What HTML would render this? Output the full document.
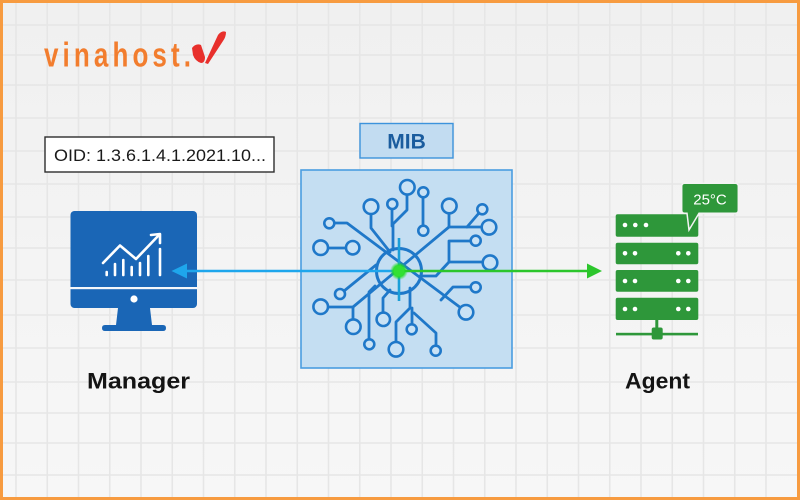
<!DOCTYPE html>
<html><head><meta charset="utf-8"><style>
html,body{margin:0;padding:0;width:800px;height:500px;overflow:hidden;background:#f3f3f3}
svg{display:block}
</style></head><body>
<svg width="800" height="500" viewBox="0 0 800 500" xmlns="http://www.w3.org/2000/svg">
<defs>
<linearGradient id="bg" x1="0" y1="0" x2="0" y2="1">
<stop offset="0" stop-color="#f0f0f0"/><stop offset="1" stop-color="#f7f7f7"/>
</linearGradient>
<radialGradient id="gd"><stop offset="0" stop-color="#7dff5a"/><stop offset="0.6" stop-color="#22dd22"/><stop offset="1" stop-color="#22dd22" stop-opacity="0"/></radialGradient>
</defs>
<rect x="0" y="0" width="800" height="500" fill="url(#bg)"/>
<g stroke="#e6e6e6" stroke-width="1.6">
<line x1="16" y1="0" x2="16" y2="500"/><line x1="47.25" y1="0" x2="47.25" y2="500"/><line x1="78.5" y1="0" x2="78.5" y2="500"/><line x1="109.75" y1="0" x2="109.75" y2="500"/><line x1="141" y1="0" x2="141" y2="500"/><line x1="172.25" y1="0" x2="172.25" y2="500"/><line x1="203.5" y1="0" x2="203.5" y2="500"/><line x1="234.75" y1="0" x2="234.75" y2="500"/><line x1="266" y1="0" x2="266" y2="500"/><line x1="297.25" y1="0" x2="297.25" y2="500"/><line x1="328.5" y1="0" x2="328.5" y2="500"/><line x1="359.75" y1="0" x2="359.75" y2="500"/><line x1="391" y1="0" x2="391" y2="500"/><line x1="422.25" y1="0" x2="422.25" y2="500"/><line x1="453.5" y1="0" x2="453.5" y2="500"/><line x1="484.75" y1="0" x2="484.75" y2="500"/><line x1="516" y1="0" x2="516" y2="500"/><line x1="547.25" y1="0" x2="547.25" y2="500"/><line x1="578.5" y1="0" x2="578.5" y2="500"/><line x1="609.75" y1="0" x2="609.75" y2="500"/><line x1="641" y1="0" x2="641" y2="500"/><line x1="672.25" y1="0" x2="672.25" y2="500"/><line x1="703.5" y1="0" x2="703.5" y2="500"/><line x1="734.75" y1="0" x2="734.75" y2="500"/><line x1="766" y1="0" x2="766" y2="500"/>
<line x1="0" y1="25" x2="800" y2="25"/><line x1="0" y1="55" x2="800" y2="55"/><line x1="0" y1="85" x2="800" y2="85"/><line x1="0" y1="118" x2="800" y2="118"/><line x1="0" y1="151" x2="800" y2="151"/><line x1="0" y1="184" x2="800" y2="184"/><line x1="0" y1="217" x2="800" y2="217"/><line x1="0" y1="248" x2="800" y2="248"/><line x1="0" y1="280" x2="800" y2="280"/><line x1="0" y1="315" x2="800" y2="315"/><line x1="0" y1="348" x2="800" y2="348"/><line x1="0" y1="382" x2="800" y2="382"/><line x1="0" y1="413" x2="800" y2="413"/><line x1="0" y1="443" x2="800" y2="443"/><line x1="0" y1="475" x2="800" y2="475"/>
</g>

<!-- logo -->
<g transform="translate(44,66.5) scale(1,1.32)">
<text x="0" y="0" font-family="Liberation Sans, sans-serif" font-weight="bold" font-size="26" fill="#f27d2e" textLength="147" lengthAdjust="spacing">vinahost.</text>
</g>
<path d="M192,48 Q196,43 201,45 L205,57 Q205,63 201,63 Q195,61 193,55 Z" fill="#e8302c"/>
<path d="M205,63 L218,35 Q222,30 226,32 Q226,37 223,41 L208,64 Z" fill="#e8302c"/>

<!-- OID box -->
<rect x="45" y="137" width="229" height="35" fill="#fff" stroke="#2e2e2e" stroke-width="1.4"/>
<text x="54" y="161" font-family="Liberation Sans, sans-serif" font-size="17" fill="#1a1a1a" textLength="212" lengthAdjust="spacingAndGlyphs">OID: 1.3.6.1.4.1.2021.10...</text>

<!-- Manager monitor -->
<g fill="#1a66b6">
<rect x="70.5" y="211" width="126.5" height="97" rx="4"/>
<path d="M118,308 H150 L152,325 H163 Q166,325 166,328 Q166,331 163,331 H105 Q102,331 102,328 Q102,325 105,325 H116 Z"/>
</g>
<rect x="70.5" y="287" width="126.5" height="2.2" fill="#f4f7fb"/>
<circle cx="134" cy="299" r="3.6" fill="#fff"/>
<g stroke="#fff" stroke-width="2.6" fill="none" stroke-linecap="round" stroke-linejoin="round">
<line x1="106.7" y1="275" x2="106.7" y2="272"/>
<line x1="115" y1="275" x2="115" y2="264"/>
<line x1="123.3" y1="275" x2="123.3" y2="260"/>
<line x1="131.7" y1="275" x2="131.7" y2="267"/>
<line x1="140" y1="275" x2="140" y2="263"/>
<line x1="148.3" y1="275" x2="148.3" y2="256"/>
<line x1="160" y1="275" x2="160" y2="249"/>
<polyline points="103,263 120,245.5 136,259 159,235"/>
<polyline points="151,235 160,234 160,243"/>
</g>
<text x="87" y="388.5" font-family="Liberation Sans, sans-serif" font-weight="bold" font-size="22.5" fill="#141414" textLength="103" lengthAdjust="spacingAndGlyphs">Manager</text>

<!-- MIB label -->
<rect x="360" y="123.5" width="93" height="34.5" fill="#c2dcf1" stroke="#3d93dc" stroke-width="1.4"/>
<text x="406.5" y="148.5" text-anchor="middle" font-family="Liberation Sans, sans-serif" font-weight="bold" font-size="21" fill="#1a5c9e">MIB</text>

<!-- MIB box -->
<rect x="301" y="170" width="211" height="198" fill="#c4def2" stroke="#4a9de0" stroke-width="1.6"/>

<g stroke="#1f78c9" stroke-width="2.8" fill="none" stroke-linecap="round" stroke-linejoin="round">
<path d="M407,195 V210 L393,224 V250"/>
<path d="M392,209 V226"/>
<path d="M371,214 V228 L390,252"/>
<path d="M423,197 V226"/>
<path d="M353,307 L449,227"/>
<path d="M449,213 V227 H482"/>
<path d="M479,213 L467,227"/>
<path d="M334,223 H347 L461,308"/>
<path d="M328,248 H346"/>
<path d="M471,241 H449 V262 H483"/>
<path d="M449,262 L436,276 H420"/>
<path d="M471,287 H453 L441,300"/>
<path d="M344,291 L376,265"/>
<path d="M328,307 H353 V320"/>
<path d="M369,339 V292 L375,286"/>
<path d="M383,313 V298 L390,290"/>
<path d="M396,342 V322 L410,308 V288"/>
<path d="M412,324 V308"/>
<path d="M436,346 V333 L414,313"/>
<circle cx="399" cy="271" r="22.5" stroke-width="3"/>
</g>
<g stroke="#1f78c9" stroke-width="2.6" fill="#c9e2f5">
<circle cx="407.3" cy="187.3" r="7.3"/>
<circle cx="423.3" cy="192.3" r="5"/>
<circle cx="371" cy="206.7" r="7.3"/>
<circle cx="392.3" cy="204" r="5"/>
<circle cx="449.3" cy="206" r="7.3"/>
<circle cx="482.3" cy="209.3" r="5"/>
<circle cx="489" cy="227.3" r="7.3"/>
<circle cx="423.3" cy="230.7" r="5"/>
<circle cx="329.3" cy="223.3" r="5"/>
<circle cx="320.7" cy="247.7" r="7.3"/>
<circle cx="352.7" cy="247.7" r="6.7"/>
<circle cx="475.7" cy="240.7" r="5"/>
<circle cx="490" cy="262.7" r="7.3"/>
<circle cx="475.7" cy="287.3" r="5"/>
<circle cx="340" cy="294" r="5"/>
<circle cx="320.7" cy="306.7" r="7.3"/>
<circle cx="353.3" cy="326.7" r="7.3"/>
<circle cx="383.3" cy="319.3" r="6.7"/>
<circle cx="466" cy="312.3" r="7.3"/>
<circle cx="411.7" cy="329.3" r="5"/>
<circle cx="369.3" cy="344.3" r="5"/>
<circle cx="396" cy="349.3" r="7.3"/>
<circle cx="435.7" cy="350.7" r="5"/>
</g>
<line x1="399" y1="238" x2="399" y2="301" stroke="#1a9ed8" stroke-width="2.6"/>

<!-- arrows -->
<line x1="185" y1="271" x2="399" y2="271" stroke="#1ea6ec" stroke-width="2.6"/>
<polygon points="171.5,271 187,263.5 187,278.5" fill="#1ea6ec"/>
<line x1="399" y1="271" x2="590" y2="271" stroke="#2cc62c" stroke-width="2.6"/>
<polygon points="602,271 587,263.5 587,278.5" fill="#2cc62c"/>
<circle cx="399" cy="271" r="9" fill="url(#gd)"/>
<circle cx="399" cy="271" r="5.5" fill="#33e033"/>

<!-- Agent server -->
<g fill="#2e973a">
<rect x="615.7" y="214.3" width="82.6" height="22.4" rx="2"/>
<rect x="615.7" y="242.7" width="82.6" height="21.6" rx="2"/>
<rect x="615.7" y="270" width="82.6" height="21.7" rx="2"/>
<rect x="615.7" y="297.7" width="82.6" height="22.3" rx="2"/>
<rect x="616" y="332.8" width="82" height="2.6"/>
<rect x="655.3" y="320" width="3" height="9"/>
<rect x="651.7" y="327.5" width="11" height="12" rx="2"/>
<path d="M685,183.3 H735.3 Q738.3,183.3 738.3,186.3 V210.3 Q738.3,213.3 735.3,213.3 H699 L689,230 L687,213.3 H684.7 Q681.7,213.3 681.7,210.3 V186.3 Q681.7,183.3 684.7,183.3 Z" stroke="#f3f3f3" stroke-width="1.5"/>
</g>
<g fill="#fff">
<circle cx="625" cy="225" r="2.3"/><circle cx="635.3" cy="225" r="2.3"/><circle cx="646" cy="225" r="2.3"/>
<circle cx="625" cy="253.3" r="2.3"/><circle cx="635" cy="253.3" r="2.3"/><circle cx="678.3" cy="253.3" r="2.3"/><circle cx="688.3" cy="253.3" r="2.3"/>
<circle cx="625" cy="281" r="2.3"/><circle cx="635" cy="281" r="2.3"/><circle cx="678.3" cy="281" r="2.3"/><circle cx="688.3" cy="281" r="2.3"/>
<circle cx="625" cy="309" r="2.3"/><circle cx="635" cy="309" r="2.3"/><circle cx="678.3" cy="309" r="2.3"/><circle cx="688.3" cy="309" r="2.3"/>
</g>
<text x="710" y="204.5" text-anchor="middle" font-family="Liberation Sans, sans-serif" font-size="15" fill="#fff">25°C</text>
<text x="625" y="388.5" font-family="Liberation Sans, sans-serif" font-weight="bold" font-size="22.5" fill="#141414" textLength="65" lengthAdjust="spacingAndGlyphs">Agent</text>

<!-- orange frame -->
<rect x="1.5" y="1.5" width="797" height="497" fill="none" stroke="#f79b40" stroke-width="3"/>
</svg>
</body></html>
